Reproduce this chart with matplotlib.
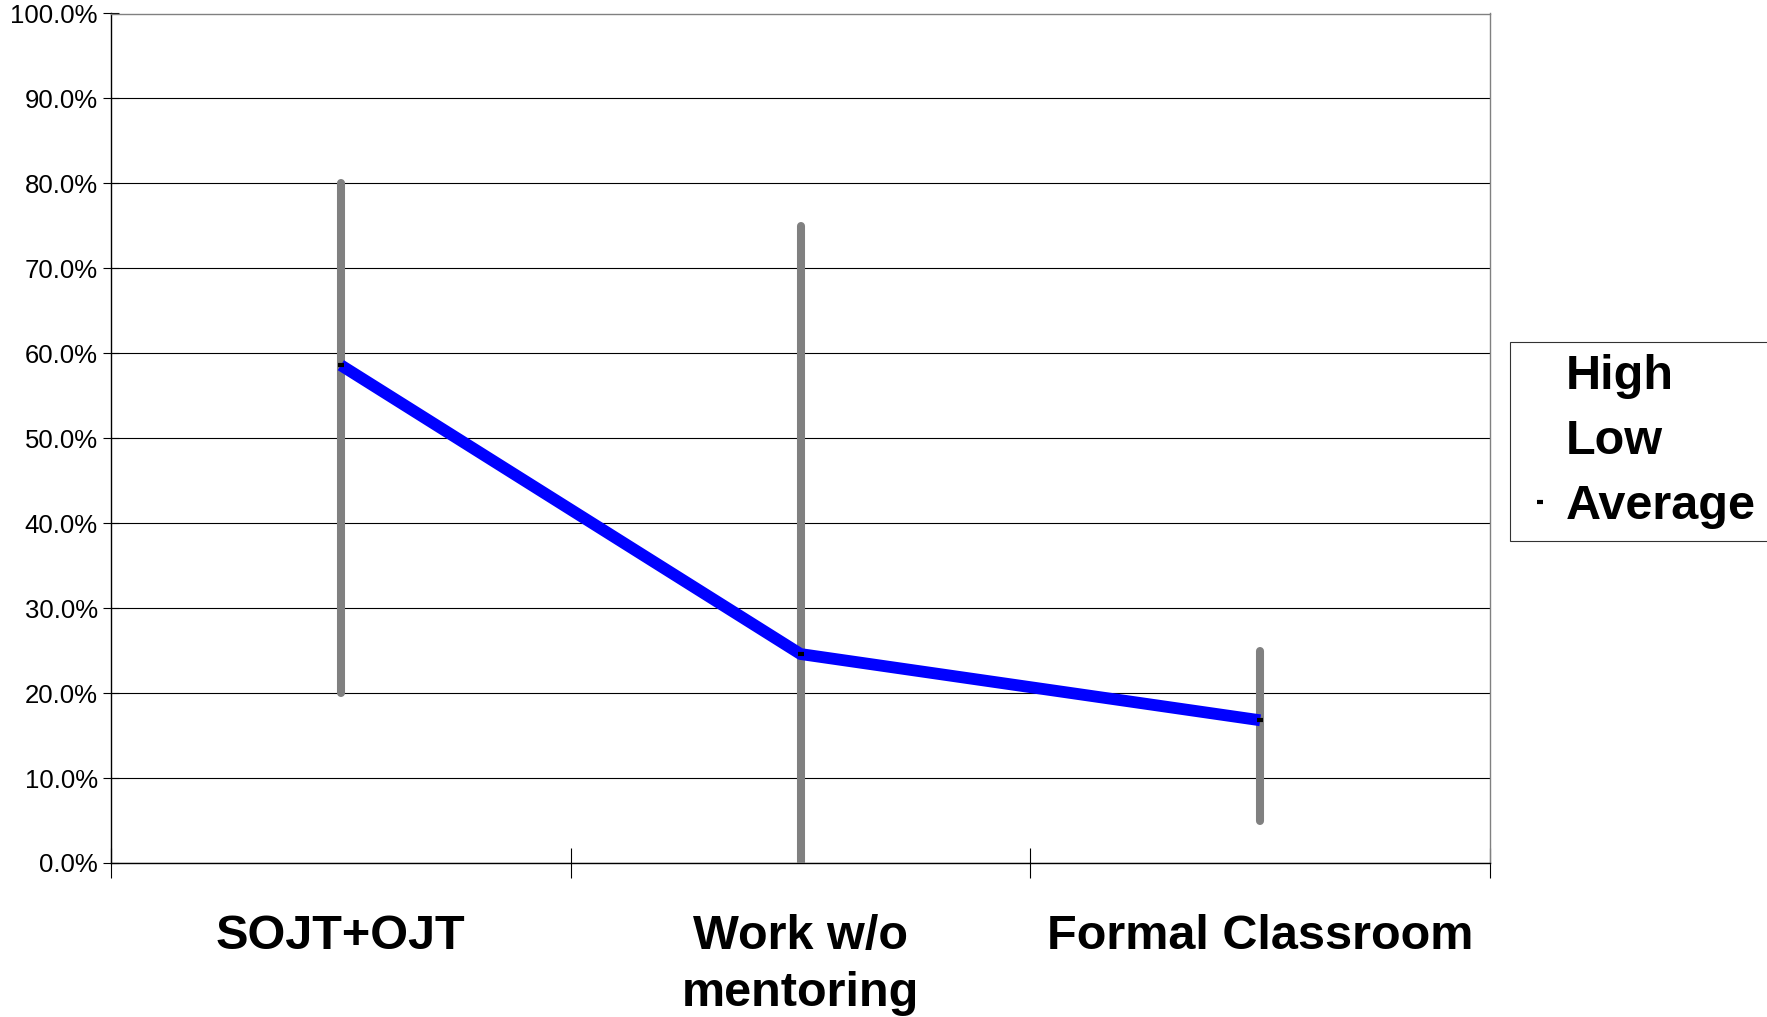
import matplotlib.pyplot as plt
from matplotlib.lines import Line2D
from matplotlib.ticker import FixedLocator, FuncFormatter

plt.rcParams["font.family"] = ["Liberation Sans", "DejaVu Sans"]

categories = ["SOJT+OJT", "Work w/o\nmentoring", "Formal Classroom"]
high = [80.0, 75.0, 25.0]
low = [20.0, 0.0, 5.0]
average = [58.6, 24.6, 16.8]

W, H = 1767, 1017
fig = plt.figure(figsize=(W / 100, H / 100), dpi=100)
ax = fig.add_axes([111 / W, 1 - 863 / H, (1490 - 111) / W, (863 - 13.5) / H])

xs = [i + 0.5 for i in range(len(categories))]

# grid
ax.set_ylim(0, 100)
ax.set_xlim(0, len(categories))
ax.set_yticks(range(0, 101, 10))
ax.yaxis.set_major_formatter(FuncFormatter(lambda v, p: f"{v:.1f}%"))
ax.grid(axis="y", color="black", lw=0.8, zorder=0)
ax.set_axisbelow(True)

# high-low bars
ax.vlines(xs, low, high, color="#808080", lw=5.8, capstyle="round", zorder=3)
# average line
ax.plot(xs, average, color="#0000ff", lw=8.5, solid_capstyle="butt", zorder=4)
ax.plot(xs, average, ls="none", marker="_", ms=5, mew=3, color="black", zorder=5)

# x axis: ticks at boundaries, labels at centres
ax.xaxis.set_major_locator(FixedLocator(range(len(categories) + 1)))
ax.xaxis.set_major_formatter(FuncFormatter(lambda v, p: ""))
ax.xaxis.set_minor_locator(FixedLocator(xs))
ax.set_xticklabels(categories, minor=True, fontsize=35, fontweight="bold",
                   linespacing=1.35, va="top")
ax.tick_params(axis="x", which="major", direction="inout", length=22, width=0.8, color="black")
ax.tick_params(axis="x", which="minor", length=0, pad=36.5)
ax.tick_params(axis="y", direction="inout", length=12, width=0.8, labelsize=18.5, pad=3.5)

for s in ("top", "right"):
    ax.spines[s].set_color("#808080")
    ax.spines[s].set_linewidth(1)
for s in ("left", "bottom"):
    ax.spines[s].set_color("black")
    ax.spines[s].set_linewidth(1)

handles = [
    Line2D([], [], ls="none"),
    Line2D([], [], ls="none"),
    Line2D([], [], ls="none", marker="_", ms=5, mew=3, color="black"),
]
leg = fig.legend(handles, ["High", "Low", "Average"], loc="upper left",
                 bbox_to_anchor=(1510 / W, 1 - 342 / H),
                 prop={"weight": "bold", "size": 35},
                 frameon=True, fancybox=False, borderpad=0.25,
                 handlelength=0.74, handletextpad=0.16, labelspacing=0.41,
                 borderaxespad=0)
leg.get_frame().set_edgecolor("black")
leg.get_frame().set_linewidth(0.8)

fig.savefig("out.png", dpi=100)
